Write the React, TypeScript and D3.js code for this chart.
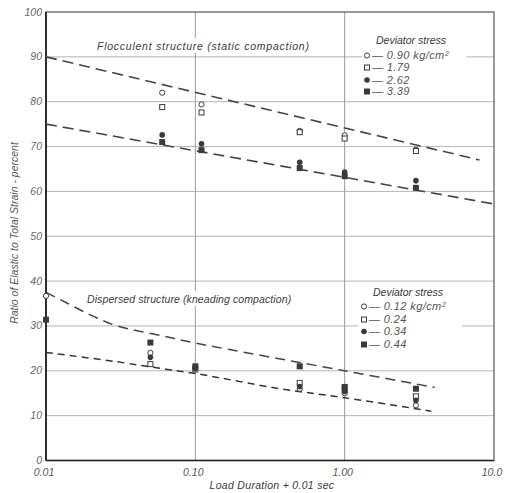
import React from 'react';
import * as d3 from 'd3';

// axis ticks
const xTicks = [0.01, 0.1, 1, 10];
const xTickLabels = ['0.01', '0.10', '1.00', '10.0'];
const yTicks = [0, 10, 20, 30, 40, 50, 60, 70, 80, 90, 100];
const yTickLabels = ['0', '10', '20', '30', '40', '50', '60', '70', '80', '90', '100'];

// flocculent structure (static compaction)
const flocDurations = [0.06, 0.11, 0.5, 1.0, 3.0];
const floc090 = [82.0, 79.4, 73.5, 72.5, 69.3];
const floc179 = [78.8, 77.6, 73.2, 71.8, 69.0];
const floc262 = [72.6, 70.6, 66.5, 64.3, 62.4];
const floc339 = [71.0, 69.2, 65.2, 63.4, 60.8];
const flocUpperX = [0.01, 8];
const flocUpperY = [90, 67];
const flocLowerX = [0.01, 10];
const flocLowerY = [75, 57.2];

// dispersed structure (kneading compaction)
const dispDurations = [0.01, 0.05, 0.1, 0.5, 1.0, 3.0];
const disp012 = [36.7, 24.0, 20.8, 16.0, 15.0, 12.3];
const disp024 = [null, 21.5, 20.3, 17.3, 15.8, 14.3];
const disp034 = [null, 23.0, 20.5, 16.5, 15.4, 13.4];
const disp044 = [31.4, 26.3, 21.0, 21.0, 16.4, 16.0];
const dispUpperX = [0.01, 0.014, 0.02, 0.03, 0.06, 0.1, 1, 4];
const dispUpperY = [37.5, 35.0, 32.4, 30.0, 27.8, 26.2, 20, 16.3];
const dispLowerX = [0.01, 0.03, 0.065, 0.1, 0.37, 1, 3.8];
const dispLowerY = [24.1, 22, 20.3, 19.4, 16, 14, 11];

const flocLegend = ['0.90 kg/cm²', '1.79', '2.62', '3.39'];
const dispLegend = ['0.12 kg/cm²', '0.24', '0.34', '0.44'];
const markerTypes = ['openCircle', 'openSquare', 'filledCircle', 'filledSquare'];

const width = 509;
const height = 493;
const ink = '#3a3a3a';
const font = '"Liberation Sans", Arial, sans-serif';

const x = d3.scaleLog().domain([0.01, 10]).range([46, 494]);
const y = d3.scaleLinear().domain([0, 100]).range([460.5, 12]);

const Marker = ({ type, cx, cy }: { type: string; cx: number; cy: number }) => {
  if (type === 'openCircle')
    return <circle cx={cx} cy={cy} r={2.6} fill="#fff" stroke={ink} strokeWidth={1} />;
  if (type === 'filledCircle') return <circle cx={cx} cy={cy} r={2.8} fill={ink} />;
  if (type === 'openSquare')
    return <rect x={cx - 2.5} y={cy - 2.5} width={5} height={5} fill="#fff" stroke={ink} strokeWidth={1} />;
  return <rect x={cx - 3} y={cy - 3} width={6} height={6} fill={ink} />;
};

const pairs = (xs: number[], ys: number[]): [number, number][] => xs.map((v, i) => [v, ys[i]]);

const App: React.FC = () => {
  const line = d3
    .line<[number, number]>()
    .x(d => x(d[0]))
    .y(d => y(d[1]))
    .curve(d3.curveCatmullRom.alpha(0.5));

  const flocSeries = [floc090, floc179, floc262, floc339];
  const dispSeries = [disp012, disp024, disp034, disp044];

  const legend = (labels: string[], mx: number, tx: number, baselines: number[], title: [number, number], bg: [number, number, number, number]) => (
    <g>
      <rect x={bg[0]} y={bg[1]} width={bg[2]} height={bg[3]} fill="#fff" />
      <text x={title[0]} y={title[1]} fontSize={10.5} fontStyle="italic" fill={ink}>
        Deviator stress
      </text>
      {labels.map((l, i) => (
        <g key={l}>
          <Marker type={markerTypes[i]} cx={mx} cy={baselines[i] - 3.5} />
          <text x={tx} y={baselines[i]} fontSize={11} fontStyle="italic" fill="#555" letterSpacing={0.4}>
            {'— ' + l}
          </text>
        </g>
      ))}
    </g>
  );

  return (
    <svg width={width} height={height} style={{ position: 'absolute', left: 0, top: 0, background: '#fff' }} fontFamily={font}>
      {/* grid */}
      {yTicks.slice(1, -1).map(t => (
        <line key={'gy' + t} x1={46} x2={494} y1={y(t)} y2={y(t)} stroke="#b5b5b5" strokeWidth={1} />
      ))}
      {xTicks.slice(1, -1).map(t => (
        <line key={'gx' + t} x1={x(t)} x2={x(t)} y1={12} y2={460.5} stroke="#9a9a9a" strokeWidth={1} />
      ))}

      {/* text backgrounds */}
      <rect x={94} y={38} width={220} height={15} fill="#fff" />
      <rect x={84} y={291} width={208} height={15} fill="#fff" />

      {/* frame */}
      <rect x={46} y={12} width={448} height={448.5} fill="none" stroke="#555" strokeWidth={1.2} />
      <line x1={46} x2={46} y1={12} y2={460.5} stroke="#222" strokeWidth={1.8} />
      <line x1={46} x2={494} y1={460.5} y2={460.5} stroke="#222" strokeWidth={1.6} />

      {/* fit lines */}
      <path d={line(pairs(flocUpperX, flocUpperY)) || ''} fill="none" stroke="#444" strokeWidth={1.6} strokeDasharray="11 6" />
      <path d={line(pairs(flocLowerX, flocLowerY)) || ''} fill="none" stroke="#444" strokeWidth={1.6} strokeDasharray="11 6" />
      <path d={line(pairs(dispUpperX, dispUpperY)) || ''} fill="none" stroke="#444" strokeWidth={1.5} strokeDasharray="10 6" />
      <path d={line(pairs(dispLowerX, dispLowerY)) || ''} fill="none" stroke="#333" strokeWidth={1.5} strokeDasharray="7 5" />

      {/* points */}
      {flocSeries.map((s, si) =>
        s.map((v, i) => <Marker key={'f' + si + i} type={markerTypes[si]} cx={x(flocDurations[i])} cy={y(v)} />)
      )}
      {dispSeries.map((s, si) =>
        s.map((v, i) =>
          v == null ? null : <Marker key={'d' + si + i} type={markerTypes[si]} cx={x(dispDurations[i])} cy={y(v)} />
        )
      )}

      {/* panel titles */}
      <text x={97} y={50} fontSize={10.5} fontStyle="italic" fill={ink} letterSpacing={0.75}>
        Flocculent structure (static compaction)
      </text>
      <text x={87} y={303} fontSize={10.5} fontStyle="italic" fill={ink} letterSpacing={0.1}>
        Dispersed structure (kneading compaction)
      </text>

      {legend(flocLegend, 367, 372, [59, 71, 83.5, 95], [376, 44], [362, 49, 104, 50])}
      {legend(dispLegend, 364, 369, [310, 323, 335, 348], [373, 296], [358, 301, 104, 50])}

      {/* tick labels */}
      {yTicks.map((t, i) => (
        <text key={'yl' + t} x={42} y={y(t) + 3.5} textAnchor="end" fontSize={10.5} fontStyle="italic" fill="#666">
          {yTickLabels[i]}
        </text>
      ))}
      {xTicks.map((t, i) => (
        <text key={'xl' + t} x={x(t) - 2} y={476} textAnchor="middle" fontSize={10.5} fontStyle="italic" fill="#555">
          {xTickLabels[i]}
        </text>
      ))}

      {/* axis titles */}
      <text x={272} y={489} textAnchor="middle" fontSize={10.5} fontStyle="italic" fill={ink} letterSpacing={0.3}>
        Load Duration + 0.01 sec
      </text>
      <text
        transform="translate(18,233) rotate(-90)"
        textAnchor="middle"
        fontSize={10.5}
        fontStyle="italic"
        fill="#555"
      >
        Ratio of Elastic to Total Strain - percent
      </text>
    </svg>
  );
};

export default App;
